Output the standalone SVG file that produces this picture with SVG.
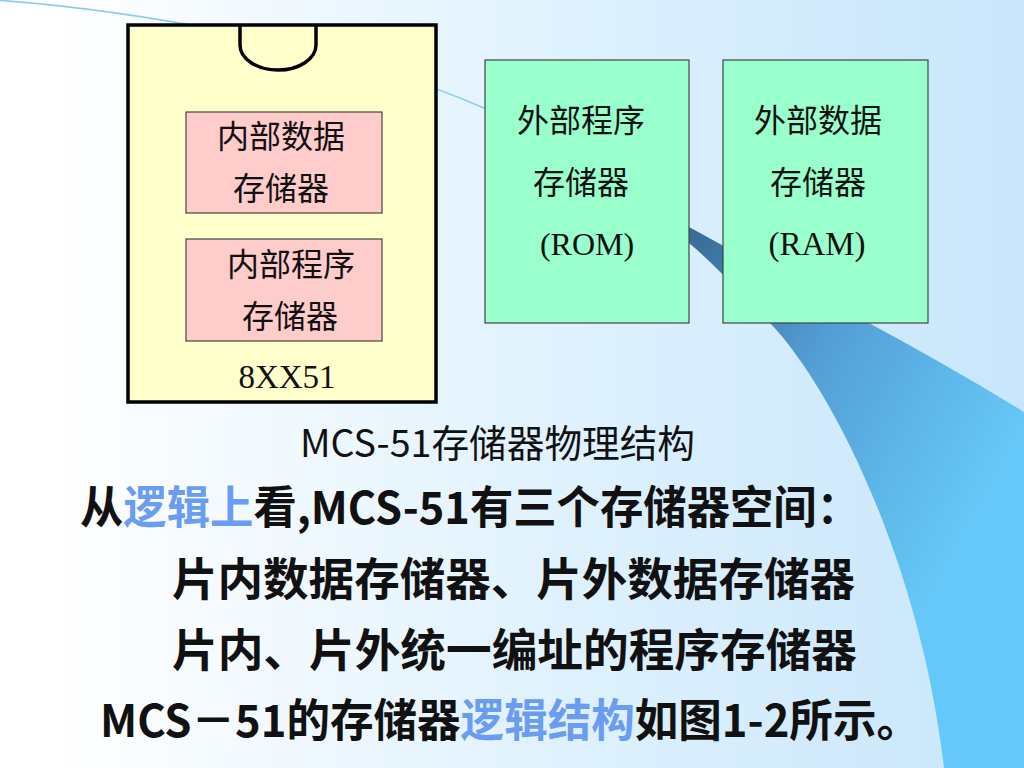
<svg xmlns="http://www.w3.org/2000/svg" width="1024" height="768" viewBox="0 0 1024 768">
<defs>
<linearGradient id="bg" x1="0" y1="0" x2="1024" y2="0" gradientUnits="userSpaceOnUse">
<stop offset="0.05" stop-color="#ffffff"/>
<stop offset="0.6" stop-color="#dcf0fd"/>
<stop offset="1" stop-color="#c8e6fb"/>
</linearGradient>
<linearGradient id="sw" x1="690" y1="240" x2="1024" y2="420" gradientUnits="userSpaceOnUse">
<stop offset="0" stop-color="#3a6c97"/>
<stop offset="0.45" stop-color="#539fd6"/>
<stop offset="1" stop-color="#66c8f8"/>
</linearGradient>
<style>
.cjk{font-family:"Noto Sans CJK SC","Noto Sans CJK TC",sans-serif;fill:#111}
.ser{font-family:"Liberation Serif",serif;fill:#111}
.box{font-size:32px;text-anchor:middle}
.main{font-size:45px;font-weight:bold}
.blue{fill:#6a9cf2}
.mem{stroke:#444;stroke-width:1.2}
</style>
</defs>
<rect width="1024" height="768" fill="url(#bg)"/>
<g id="swoosh">
<path d="M -5,0 C 120,9 330,41 484,108 L 560,150" fill="none" stroke="#8ccaf0" stroke-width="1.6"/>
<path d="M 540,138 L 689,227 C 780,278 900,335 1024,412 L 1024,768 L 944,768 C 920,560 830,385 770,323 C 740,292 715,265 689,243 L 540,142 Z" fill="url(#sw)"/>
</g>
<g id="chip">
<rect x="128" y="25" width="308" height="377" fill="#ffffcc" stroke="#000" stroke-width="3.5"/>
<path d="M240,25 L240,45 A38,25 0 0 0 316,45 L316,25" fill="none" stroke="#000" stroke-width="3.5"/>
<text class="ser" x="287" y="388" font-size="33" text-anchor="middle">8XX51</text>
</g>
<g id="int-data">
<rect class="mem" x="186" y="112" width="196" height="101" fill="#ffcccc"/>
<text class="cjk box" x="281" y="148">内部数据</text>
<text class="cjk box" x="281" y="200">存储器</text>
</g>
<g id="int-prog">
<rect class="mem" x="186" y="239" width="196" height="102" fill="#ffcccc"/>
<text class="cjk box" x="291" y="276">内部程序</text>
<text class="cjk box" x="290" y="328">存储器</text>
</g>
<g id="ext-rom">
<rect class="mem" x="485" y="60" width="204" height="263" fill="#99ffcc"/>
<text class="cjk box" x="581" y="132">外部程序</text>
<text class="cjk box" x="581" y="194">存储器</text>
<text class="ser" x="587" y="255" font-size="32" text-anchor="middle">(ROM)</text>
</g>
<g id="ext-ram">
<rect class="mem" x="723" y="60" width="205" height="263" fill="#99ffcc"/>
<text class="cjk box" x="818" y="132">外部数据</text>
<text class="cjk box" x="818" y="194">存储器</text>
<text class="ser" x="817" y="255" font-size="33" text-anchor="middle">(RAM)</text>
</g>
<g id="connectors"></g>
<g id="texts">
<text class="cjk" x="300" y="457" font-size="38" textLength="395" lengthAdjust="spacingAndGlyphs" fill="#222">MCS-51存储器物理结构</text>
<text class="cjk main" x="80" y="524" textLength="780" lengthAdjust="spacingAndGlyphs">从<tspan class="blue">逻辑上</tspan>看,MCS-51有三个存储器空间：</text>
<text class="cjk main" x="172" y="596" textLength="683" lengthAdjust="spacingAndGlyphs">片内数据存储器、片外数据存储器</text>
<text class="cjk main" x="172" y="667" textLength="685" lengthAdjust="spacingAndGlyphs">片内、片外统一编址的程序存储器</text>
<text class="cjk main" x="100" y="737" textLength="820" lengthAdjust="spacingAndGlyphs">MCS－51的存储器<tspan class="blue">逻辑结构</tspan>如图1-2所示。</text>
</g>
</svg>
